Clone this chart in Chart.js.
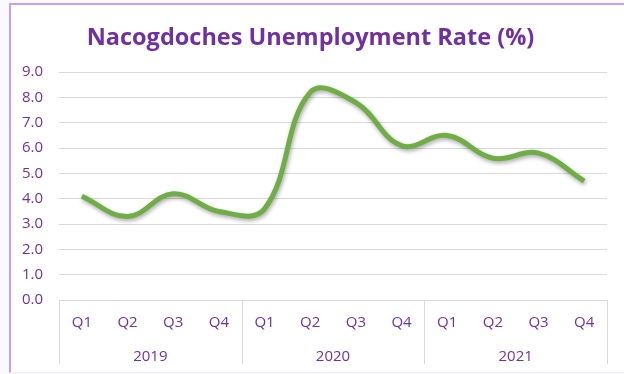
<!DOCTYPE html>
<html>
<head>
<meta charset="utf-8">
<script src="https://cdn.jsdelivr.net/npm/chart.js@4"></script>
<style>
  body { margin: 0; background: #f9f9fe; width: 624px; height: 374px; overflow: hidden; position: relative; }
  /* the purple frame round the chart, right edge runs off the page like in the picture */
  #frame { position: absolute; left: 9px; top: 3px; width: 660px; height: 367px;
           background: #ffffff; border-left: 2px solid #c79ee8; border-top: 2px solid #c79ee8;
           border-bottom: 1px solid #eeeef3; }
  #chart { position: absolute; left: 0; top: 0; }
</style>
</head>
<body>
<div id="frame"></div>
<canvas id="chart" width="624" height="374"></canvas>
<script>
// =============================================
// DATA
// =============================================
const years    = ["2019", "2020", "2021"];
const quarters = ["Q1", "Q2", "Q3", "Q4"];
// one label per point: Q1..Q4 repeated for each year
const quarterLabels = years.flatMap(() => quarters);
// unemployment rate (%)
const rates = [4.1, 3.3, 4.2, 3.5, 3.6, 8.2, 7.8, 6.1, 6.5, 5.6, 5.8, 4.7];
const yTicks = [0, 1, 2, 3, 4, 5, 6, 7, 8, 9];

const purple = "#7030a0";
const gridGrey = "#d9d9d9";
const tickFont = { family: "'Open Sans'", size: 15 };

// =============================================
// PLUGINS
// =============================================
// soft drop shadow under the line, like Excel does
const lineShadow = {
  id: "lineShadow",
  beforeDatasetDraw(chart) {
    const ctx = chart.ctx;
    ctx.save();
    ctx.shadowColor = "rgba(0,0,0,0.35)";
    ctx.shadowBlur = 4;
    ctx.shadowOffsetX = 1;
    ctx.shadowOffsetY = 2;
  },
  afterDatasetDraw(chart) {
    chart.ctx.restore();
  }
};

// vertical separators between the year groups, under the chart area
const groupLines = {
  id: "groupLines",
  afterDraw(chart) {
    const x = chart.scales.x;
    const yr = chart.scales.year;
    const ctx = chart.ctx;
    ctx.save();
    ctx.strokeStyle = gridGrey;
    ctx.lineWidth = 1;
    for (let i = 0; i <= quarterLabels.length; i += quarters.length) {
      const px = Math.round(x.getPixelForValue(i - 0.5)) + 0.5;
      ctx.beginPath();
      ctx.moveTo(px, chart.chartArea.bottom);
      ctx.lineTo(px, yr.bottom);
      ctx.stroke();
    }
    ctx.restore();
  }
};

// =============================================
// CHART
// =============================================
new Chart(document.getElementById("chart"), {
  type: "line",
  data: {
    labels: quarterLabels,
    datasets: [{
      data: rates,
      borderColor: "#70ad47",
      borderWidth: 5,
      pointRadius: 0,
      tension: 0.4,
      fill: false
    }]
  },
  options: {
    responsive: false,
    animation: false,
    layout: { padding: { top: 0, right: 17, bottom: 10, left: 14 } },
    plugins: {
      legend: { display: false },
      tooltip: { enabled: false },
      title: {
        display: true,
        text: "Nacogdoches Unemployment Rate (%)",
        color: purple,
        font: { family: "'Open Sans'", size: 23.5, weight: "bold", lineHeight: 1.2 },
        padding: { top: 24, bottom: 20 }
      }
    },
    scales: {
      x: {
        type: "category",
        position: "bottom",
        offset: true,
        afterFit(scale) { scale.height = 32; },
        grid: { display: false, drawTicks: false },
        border: { display: false },
        ticks: { color: purple, font: tickFont, padding: 14, maxRotation: 0, autoSkip: false }
      },
      year: {
        type: "category",
        position: "bottom",
        labels: years,
        offset: true,
        afterFit(scale) { scale.height = 32; },
        grid: { display: false, drawTicks: false },
        border: { display: false },
        ticks: { color: purple, font: tickFont, padding: 16, maxRotation: 0, autoSkip: false }
      },
      y: {
        min: 0,
        max: 9,
        afterFit(scale) { scale.width = 45; },
        afterBuildTicks(scale) { scale.ticks = yTicks.map(v => ({ value: v })); },
        grid: { color: gridGrey, lineWidth: 1, drawTicks: false },
        border: { display: false },
        ticks: {
          color: purple,
          font: tickFont,
          padding: 16,
          autoSkip: false,
          callback: v => v.toFixed(1)
        }
      }
    }
  },
  plugins: [lineShadow, groupLines]
});
</script>
</body>
</html>
